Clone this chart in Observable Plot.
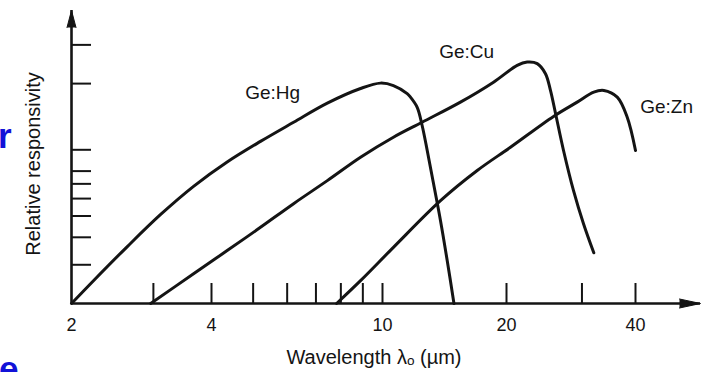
<!DOCTYPE html>
<html>
<head>
<meta charset="utf-8">
<script src="https://cdn.jsdelivr.net/npm/d3@7"></script>
<script src="https://cdn.jsdelivr.net/npm/@observablehq/plot@0.6"></script>
<style>
  html, body { margin: 0; padding: 0; background: #ffffff; }
  #wrap { position: relative; width: 708px; height: 372px; overflow: hidden; }
  #wrap svg { position: absolute; left: 0; top: 0; }
</style>
</head>
<body>
<div id="wrap"></div>
<script>
// ---- data (wavelength in µm, relative responsivity on a log scale) ----
const seriesNames = ["Ge:Hg", "Ge:Cu", "Ge:Zn"];

const hgX = [2, 2.23, 2.64, 3.11, 3.66, 4.35, 5.2, 6.21, 7.44, 8.89, 9.89, 10.63, 11.48, 11.69, 12.14, 12.48, 12.84, 13.3, 13.83, 14.36, 14.91];
const hgY = [2, 2.54, 3.64, 5.08, 6.82, 8.80, 10.92, 13.34, 16.3, 19.0, 20.1, 19.6, 18.0, 17.36, 15.6, 12.9, 9.93, 7.02, 4.76, 3.13, 2];

const cuX = [2.96, 3.66, 4.35, 5.2, 6.21, 7.44, 8.89, 10.63, 12.48, 15.46, 18.6, 21.18, 22.35, 23.59, 24.66, 25.33, 26.03, 27.17, 28.67, 30.25, 31.97];
const cuY = [2, 2.73, 3.48, 4.44, 5.69, 7.24, 9.25, 11.41, 13.35, 16.47, 20.3, 24.2, 25.06, 24.65, 22.18, 18.62, 14.63, 9.93, 6.52, 4.61, 3.40];

const znX = [7.82, 8.89, 10.63, 13.83, 16.98, 20.43, 25.75, 29.24, 31.97, 33.74, 36.26, 38.26, 40];
const znY = [2, 2.54, 3.60, 5.87, 8.05, 10.27, 14.18, 16.47, 18.3, 18.62, 17.36, 14.07, 9.93];

const labelX = [5.55, 16.0, 47.4];
const labelY = [18.2, 28.0, 15.6];

const xTickLabels = [2, 4, 10, 20, 40];
const xTickMarks = [3, 4, 5, 6, 7, 8, 9, 10, 20, 30, 40];
const yTickMarks = [3, 4, 5, 6, 7, 8, 10, 20, 30];
const xExtent = [2, 57];
const yExtent = [2, 43];

const xTitle = "Wavelength λₒ (µm)";
const yTitle = "Relative responsivity";

// ---- build table ----
const rows = [];
[[hgX, hgY], [cuX, cuY], [znX, znY]].forEach(([xs, ys], k) => {
  xs.forEach((x, i) => rows.push({series: seriesNames[k], x, y: ys[i]}));
});
const labels = seriesNames.map((name, i) => ({name, x: labelX[i], y: labelY[i]}));

const ink = "#141414";
const font = "'Liberation Sans', Arial, sans-serif";

const chart = Plot.plot({
  width: 708,
  height: 372,
  marginLeft: 71,
  marginRight: 8,
  marginTop: 10,
  marginBottom: 69,
  style: {background: "transparent", fontFamily: font, color: ink, overflow: "visible"},
  x: {type: "log", domain: [xExtent[0], 4, 10, 20, 40, xExtent[1]], range: [71, 211, 382, 506, 635, 700], label: null, axis: null},
  y: {type: "log", domain: yExtent, axis: null, label: null},
  marks: [
    Plot.ruleY([yExtent[0]], {stroke: ink, strokeWidth: 2.6}),
    Plot.ruleX([xExtent[0]], {stroke: ink, strokeWidth: 2.6}),
    Plot.tickX(xTickMarks, {x: d => d, insetTop: 273, stroke: ink, strokeWidth: 2}),
    Plot.tickY(yTickMarks, {y: d => d, insetRight: 609, stroke: ink, strokeWidth: 2}),
    Plot.vector([xExtent[1]], {x: d => d, y: () => yExtent[0], rotate: 90, length: 21, anchor: "end", shape: "spike", r: 4.5, fill: ink, fillOpacity: 1, stroke: ink, strokeWidth: 1}),
    Plot.vector([yExtent[1]], {x: () => xExtent[0], y: d => d, rotate: 0, length: 17, anchor: "end", shape: "spike", r: 4.5, fill: ink, fillOpacity: 1, stroke: ink, strokeWidth: 1}),
    Plot.line(rows, {x: "x", y: "y", z: "series", curve: "catmull-rom", stroke: ink, strokeWidth: 3, strokeLinejoin: "round", strokeLinecap: "round"}),
    Plot.text(xTickLabels, {x: d => d, y: () => yExtent[0], dy: 22, text: d => String(d), fontSize: 18, fill: ink, lineAnchor: "middle", textAnchor: "middle"}),
    Plot.text(labels, {x: "x", y: "y", text: "name", fontSize: 19, fill: ink}),
    Plot.text([xTitle], {frameAnchor: "bottom", dx: -12, dy: 54, fontSize: 20, fill: ink, textAnchor: "middle", lineAnchor: "middle"}),
    Plot.text([yTitle], {frameAnchor: "left", rotate: -90, dx: -38, dy: 7, fontSize: 20, fill: ink, textAnchor: "middle", lineAnchor: "middle"})
  ]
});

const wrap = document.getElementById("wrap");
wrap.appendChild(chart);

// stray slide-text fragments visible at the left edge of the picture
const ns = "http://www.w3.org/2000/svg";
const over = document.createElementNS(ns, "svg");
over.setAttribute("width", 708);
over.setAttribute("height", 372);
[["r", -2, 148], ["e", -1, 381]].forEach(([t, x, y]) => {
  const el = document.createElementNS(ns, "text");
  el.setAttribute("x", x);
  el.setAttribute("y", y);
  el.setAttribute("fill", "#1212d8");
  el.setAttribute("font-family", font);
  el.setAttribute("font-weight", "bold");
  el.setAttribute("font-size", 35);
  el.textContent = t;
  over.appendChild(el);
});
wrap.appendChild(over);
</script>
</body>
</html>
